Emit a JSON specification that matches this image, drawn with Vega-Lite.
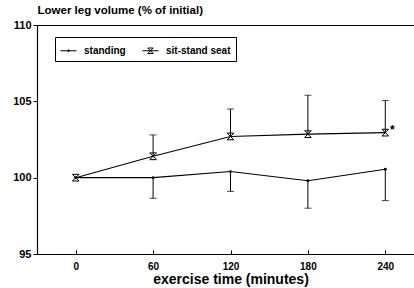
{
  "$schema": "https://vega.github.io/schema/vega-lite/v6.json",
  "width": 387,
  "height": 229,
  "autosize": "none",
  "padding": {"left": 37, "top": 25, "right": 0, "bottom": 34},
  "background": "white",
  "config": {
    "view": {"stroke": "black", "strokeWidth": 1},
    "font": "Liberation Sans",
    "axis": {
      "domainColor": "black",
      "tickColor": "black",
      "labelColor": "black",
      "titleColor": "black",
      "labelFontWeight": "bold",
      "titleFontWeight": "bold",
      "grid": false
    }
  },
  "data": {
    "values": [
      {"series": "standing", "t": 0, "mean": 100.0, "err": null},
      {"series": "standing", "t": 60, "mean": 100.0, "err": 98.65},
      {"series": "standing", "t": 120, "mean": 100.4, "err": 99.1},
      {"series": "standing", "t": 180, "mean": 99.8, "err": 98.0},
      {"series": "standing", "t": 240, "mean": 100.55, "err": 98.5},
      {"series": "sit-stand seat", "t": 0, "mean": 100.0, "err": null},
      {"series": "sit-stand seat", "t": 60, "mean": 101.4, "err": 102.8},
      {"series": "sit-stand seat", "t": 120, "mean": 102.7, "err": 104.5},
      {"series": "sit-stand seat", "t": 180, "mean": 102.85, "err": 105.4},
      {"series": "sit-stand seat", "t": 240, "mean": 102.95, "err": 105.05, "note": "*"}
    ]
  },
  "encoding": {
    "x": {
      "field": "t",
      "type": "quantitative",
      "scale": {"domain": [-30, 270], "nice": false, "zero": false},
      "axis": {
        "values": [0, 60, 120, 180, 240],
        "title": "exercise time (minutes)",
        "titleFontSize": 14,
        "titlePadding": 1,
        "labelFontSize": 10,
        "tickSize": -4,
        "labelPadding": 11,
        "domainWidth": 1.2
      }
    }
  },
  "layer": [
    {
      "mark": {"type": "line", "color": "black", "strokeWidth": 1.1},
      "encoding": {
        "y": {
          "field": "mean",
          "type": "quantitative",
          "scale": {"domain": [95, 110], "nice": false, "zero": false},
          "axis": {
            "values": [95, 100, 105, 110],
            "title": "Lower leg volume (% of initial)",
            "titleAngle": 0,
            "titleAlign": "left",
            "titleBaseline": "alphabetic",
            "titleX": 0,
            "titleY": -12,
            "titleFontSize": 11.5,
            "labelFontSize": 11,
            "tickSize": 4,
            "labelPadding": 2,
            "domainWidth": 1.2
          }
        },
        "detail": {"field": "series"}
      }
    },
    {
      "transform": [{"filter": "datum.err != null"}],
      "mark": {"type": "rule", "color": "black", "strokeWidth": 1},
      "encoding": {
        "y": {"field": "mean", "type": "quantitative"},
        "y2": {"field": "err"}
      }
    },
    {
      "transform": [{"filter": "datum.err != null"}],
      "mark": {"type": "tick", "orient": "horizontal", "color": "black", "size": 7, "thickness": 1},
      "encoding": {
        "y": {"field": "err", "type": "quantitative"}
      }
    },
    {
      "transform": [{"filter": "datum.series === 'standing'"}],
      "mark": {"type": "point", "filled": true, "color": "black", "shape": "circle", "size": 8, "opacity": 1},
      "encoding": {
        "y": {"field": "mean", "type": "quantitative"}
      }
    },
    {
      "transform": [{"filter": "datum.series === 'sit-stand seat'"}],
      "mark": {"type": "point", "filled": false, "color": "black", "strokeWidth": 1, "shape": "M-1,-1H1L-1,1H1L-1,-1Z", "size": 45, "opacity": 1},
      "encoding": {
        "y": {"field": "mean", "type": "quantitative"}
      }
    },
    {
      "transform": [{"filter": "false"}],
      "mark": {"type": "point", "filled": false, "color": "black", "strokeWidth": 1, "size": 256, "opacity": 1},
      "encoding": {
        "y": {"field": "mean", "type": "quantitative"},
        "shape": {
          "field": "series",
          "type": "nominal",
          "scale": {
            "domain": ["standing", "sit-stand seat"],
            "range": ["M-1,0H1M-0.08,-0.08H0.08V0.08H-0.08Z", "M-1,0H1M-0.34,-0.34H0.34L-0.34,0.34H0.34L-0.34,-0.34Z"]
          },
          "legend": {
            "orient": "none",
            "legendX": 18,
            "legendY": 12,
            "direction": "horizontal",
            "title": null,
            "strokeColor": "black",
            "padding": 5,
            "symbolSize": 256,
            "symbolStrokeColor": "black",
            "symbolStrokeWidth": 1,
            "labelFontSize": 10,
            "labelFontWeight": "bold",
            "labelColor": "black",
            "labelOffset": 7,
            "columnPadding": 14
          }
        }
      }
    },
    {
      "transform": [{"filter": "datum.note != null"}],
      "mark": {"type": "text", "color": "black", "fontSize": 12, "fontWeight": "bold", "dx": 7, "dy": -3, "align": "center", "baseline": "middle"},
      "encoding": {
        "y": {"field": "mean", "type": "quantitative"},
        "text": {"field": "note"}
      }
    }
  ]
}
